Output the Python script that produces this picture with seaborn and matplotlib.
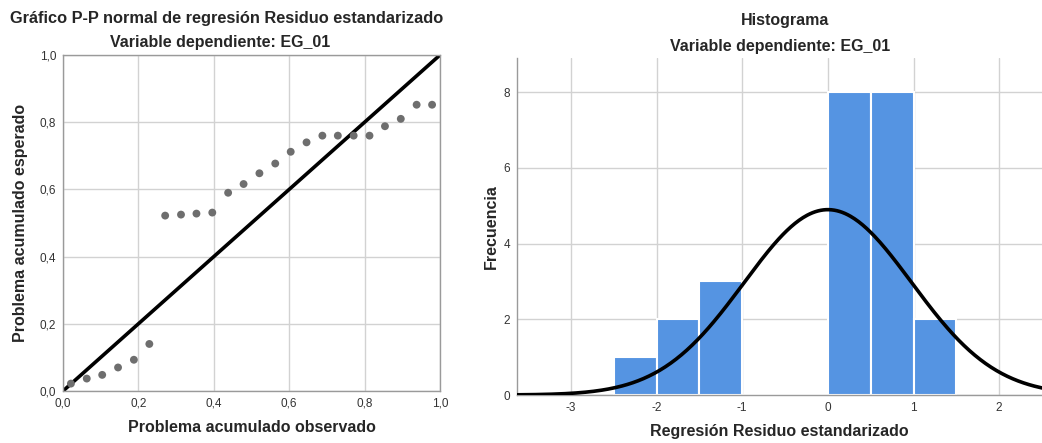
import numpy as np
import pandas as pd
import matplotlib
matplotlib.use("Agg")
import matplotlib.pyplot as plt
import seaborn as sns
from matplotlib.ticker import FuncFormatter

# P-P plot: observed vs expected cumulative probability of the standardized residuals
observed = [0.021, 0.063, 0.104, 0.146, 0.188, 0.229, 0.271, 0.313, 0.354, 0.396,
            0.438, 0.479, 0.521, 0.563, 0.604, 0.646, 0.688, 0.729, 0.771, 0.813,
            0.854, 0.896, 0.938, 0.979]
expected = [0.022, 0.037, 0.048, 0.070, 0.093, 0.140, 0.522, 0.525, 0.528, 0.531,
            0.590, 0.616, 0.648, 0.677, 0.712, 0.740, 0.760, 0.760, 0.760, 0.760,
            0.788, 0.810, 0.852, 0.852]

# Histogram of the standardized residuals
bin_edges = [-2.5, -2.0, -1.5, -1.0, -0.5, 0.0, 0.5, 1.0, 1.5]
bin_counts = [1, 2, 3, 0, 0, 8, 8, 2]
resid_mean = 0.0
resid_sd = 0.978
n_obs = 24

sns.set_theme(style="whitegrid")
plt.rcParams["font.family"] = ["Liberation Sans", "DejaVu Sans"]
plt.rcParams["axes.unicode_minus"] = False

fig = plt.figure(figsize=(10.42, 4.43), dpi=100)
W, H = 1042, 443
ax1 = fig.add_axes([63 / W, 1 - 391 / H, (440 - 63) / W, (391 - 55) / H])
ax2 = fig.add_axes([517 / W, 1 - 395 / H, (1042 - 517) / W, (395 - 58) / H])

grid_col = "#d2d2d2"
spine_col = "#9a9a9a"
comma = FuncFormatter(lambda v, p: f"{v:.1f}".replace(".", ","))

# ---- P-P plot ----
pp = pd.DataFrame({"obs": observed, "exp": expected})
sns.lineplot(x=[0, 1], y=[0, 1], ax=ax1, color="black", lw=2.6)
sns.scatterplot(data=pp, x="obs", y="exp", ax=ax1, color="#6e6e6e",
                s=32, edgecolor="none", zorder=3)
ax1.set_xlim(0, 1)
ax1.set_ylim(0, 1)
ax1.set_xticks(np.arange(0, 1.01, 0.2))
ax1.set_yticks(np.arange(0, 1.01, 0.2))
ax1.xaxis.set_major_formatter(comma)
ax1.yaxis.set_major_formatter(comma)
ax1.set_xlabel("Problema acumulado observado", fontsize=11.5, fontweight="bold", labelpad=7)
ax1.set_ylabel("Problema acumulado esperado", fontsize=11.5, fontweight="bold", labelpad=8)

# ---- Histogram ----
centers = [(a + b) / 2 for a, b in zip(bin_edges[:-1], bin_edges[1:])]
hist_df = pd.DataFrame({"resid": centers, "count": bin_counts})
sns.histplot(data=hist_df, x="resid", weights="count", bins=bin_edges, ax=ax2,
             color="#5594e2", alpha=1.0, edgecolor="white", linewidth=1.5, zorder=2)
xs = np.linspace(-3.7, 2.6, 400)
curve = n_obs * 0.5 * np.exp(-0.5 * ((xs - resid_mean) / resid_sd) ** 2) / (resid_sd * np.sqrt(2 * np.pi))
sns.lineplot(x=xs, y=curve, ax=ax2, color="black", lw=2.6, zorder=3)
ax2.set_xlim(-3.63, 2.5)
ax2.set_ylim(0, 8.9)
ax2.set_xticks([-3, -2, -1, 0, 1, 2])
ax2.set_yticks([0, 2, 4, 6, 8])
ax2.set_xlabel("Regresión Residuo estandarizado", fontsize=11.5, fontweight="bold", labelpad=7)
ax2.set_ylabel("Frecuencia", fontsize=11.5, fontweight="bold", labelpad=3)

for ax in (ax1, ax2):
    ax.set_axisbelow(True)
    ax.grid(True, color=grid_col, lw=1.0)
    ax.tick_params(axis="both", labelsize=8.5, colors="#333333", length=3,
                   width=0.8, direction="out", pad=2)
    ax.tick_params(axis="both", color=spine_col)
    for s in ax.spines.values():
        s.set_color(spine_col)
        s.set_linewidth(1.0)
ax2.spines["top"].set_visible(False)
ax2.spines["right"].set_visible(False)

# Titles
fig.text(227 / W, 1 - 18 / H, "Gráfico P-P normal de regresión Residuo estandarizado",
         ha="center", va="center", fontsize=11.8, fontweight="bold")
fig.text(220 / W, 1 - 43 / H, "Variable dependiente: EG_01",
         ha="center", va="center", fontsize=11.5, fontweight="bold")
fig.text(785 / W, 1 - 20 / H, "Histograma",
         ha="center", va="center", fontsize=11.5, fontweight="bold")
fig.text(780 / W, 1 - 47 / H, "Variable dependiente: EG_01",
         ha="center", va="center", fontsize=11.5, fontweight="bold")

fig.savefig("out.png", dpi=100, facecolor="white")
